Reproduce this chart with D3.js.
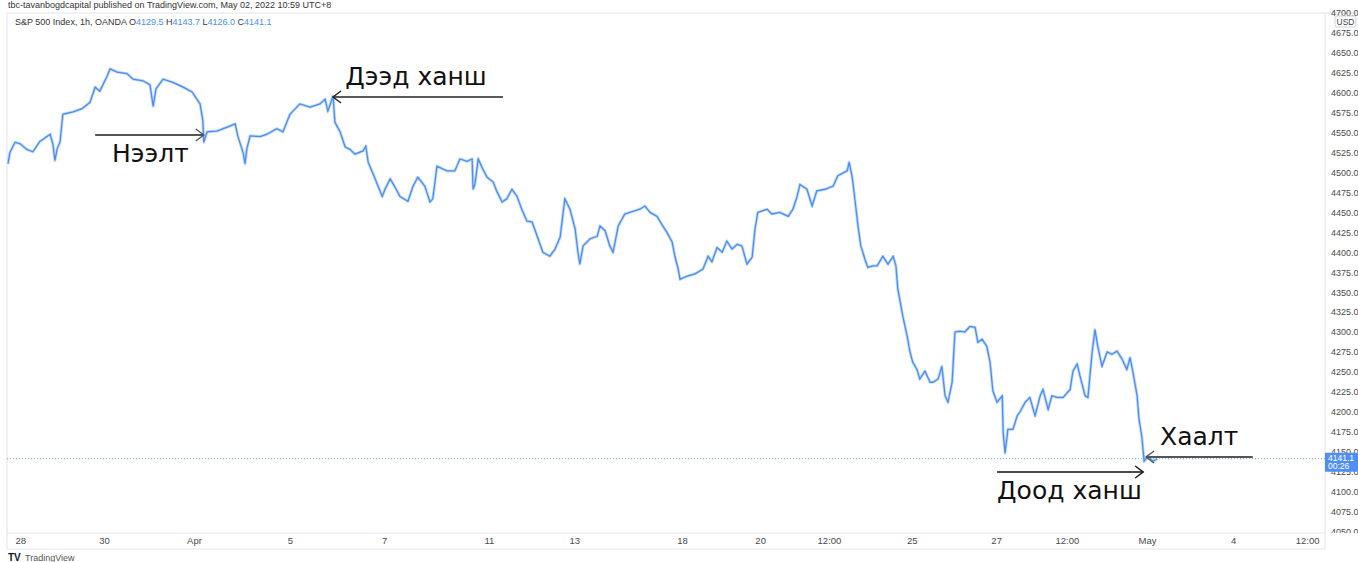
<!DOCTYPE html>
<html><head><meta charset="utf-8">
<script src="https://cdn.jsdelivr.net/npm/d3@7"></script>
<style>body{margin:0;background:#fff;overflow:hidden;} svg{display:block;}</style>
</head><body>
<svg id="c" width="1358" height="562"></svg>
<script>
// ---- data (trading-day offset, price) ----
const days = [-0.17,-0.13,-0.02,0.09,0.23,0.36,0.51,0.73,0.79,0.83,0.88,0.94,1.00,1.22,1.41,1.58,1.69,1.79,1.94,2.01,2.16,2.37,2.50,2.71,2.86,2.93,2.99,3.14,3.35,3.57,3.76,3.93,3.99,4.01,4.08,4.29,4.51,4.68,4.74,4.85,4.89,4.93,5.00,5.21,5.36,5.57,5.70,5.85,6.06,6.28,6.49,6.60,6.66,6.77,6.81,6.92,7.03,7.13,7.24,7.41,7.47,7.52,7.67,7.82,7.88,7.99,8.09,8.20,8.37,8.48,8.58,8.73,8.84,8.90,8.99,9.20,9.37,9.48,9.63,9.74,9.76,9.80,9.87,9.97,10.06,10.19,10.27,10.38,10.48,10.59,10.70,10.80,10.91,11.02,11.13,11.25,11.40,11.51,11.62,11.72,11.83,11.94,12.00,12.04,12.11,12.26,12.41,12.47,12.58,12.68,12.75,12.86,13.00,13.11,13.32,13.43,13.54,13.69,13.79,13.90,14.01,14.07,14.14,14.18,14.33,14.50,14.67,14.78,14.86,14.97,15.08,15.18,15.29,15.40,15.50,15.61,15.72,15.78,15.84,16.04,16.14,16.31,16.49,16.59,16.68,16.74,16.89,17.00,17.10,17.28,17.45,17.55,17.75,17.79,17.85,17.87,17.92,17.98,18.04,18.13,18.19,18.30,18.39,18.51,18.62,18.73,18.79,18.83,18.88,18.94,19.03,19.09,19.15,19.24,19.30,19.41,19.52,19.58,19.69,19.77,19.84,19.90,19.99,20.05,20.16,20.26,20.37,20.48,20.54,20.63,20.73,20.80,20.86,20.95,21.06,21.08,21.12,21.18,21.29,21.38,21.44,21.55,21.65,21.76,21.87,21.93,22.04,22.12,22.23,22.36,22.51,22.57,22.66,22.72,22.83,22.89,22.98,23.04,23.10,23.19,23.30,23.40,23.51,23.62,23.72,23.79,23.85,23.94,23.98,24.04,24.09,24.17,24.28,24.37];
const prices = [4511,4525,4538,4536,4529,4526,4539,4548,4535,4515,4530,4538,4573,4576,4580,4588,4607,4602,4620,4630,4626,4624,4617,4615,4610,4583,4605,4617,4613,4607,4601,4586,4565,4538,4551,4552,4557,4561,4545,4525,4511,4530,4546,4545,4548,4555,4551,4573,4586,4582,4586,4592,4577,4596,4563,4551,4532,4529,4523,4527,4533,4513,4492,4470,4479,4492,4482,4470,4464,4483,4494,4483,4463,4467,4508,4502,4502,4517,4514,4517,4479,4485,4517,4504,4494,4488,4476,4463,4467,4479,4470,4454,4439,4438,4420,4400,4395,4404,4419,4467,4454,4429,4400,4385,4408,4417,4420,4433,4427,4408,4400,4433,4448,4450,4454,4458,4450,4445,4435,4425,4413,4395,4379,4366,4370,4373,4379,4395,4388,4406,4400,4414,4404,4410,4408,4385,4394,4429,4450,4454,4448,4450,4445,4454,4470,4485,4479,4458,4477,4479,4483,4496,4502,4513,4496,4488,4463,4433,4408,4391,4381,4383,4383,4395,4385,4395,4383,4354,4338,4319,4295,4275,4262,4253,4241,4251,4237,4237,4241,4257,4220,4212,4237,4300,4301,4300,4307,4306,4287,4291,4282,4262,4226,4212,4220,4174,4148,4178,4178,4195,4200,4212,4218,4195,4220,4228,4203,4220,4218,4218,4228,4251,4260,4245,4220,4218,4275,4303,4282,4257,4275,4272,4276,4266,4253,4268,4250,4220,4191,4169,4138,4144,4138,4141];

const timeTickDays   = [0.09,1.88,3.80,5.85,7.86,10.10,11.92,14.22,15.89,17.36,19.13,20.93,22.44,24.15,25.99,27.57];
const timeTickLabels = ["28","30","Apr","5","7","11","13","18","20","12:00","25","27","12:00","May","4","12:00"];
const priceTicks = d3.range(4050, 4701, 25);

const symbolText = "S&P 500 Index, 1h, OANDA";
const ohlcKeys = ["O","H","L","C"];
const ohlcVals = [4129.5, 4143.7, 4126.0, 4141.1];
const lastPrice = 4141.1;
const countdown = "00:26";
const publisher = "tbc-tavanbogdcapital published on TradingView.com, May 02, 2022 10:59 UTC+8";

// annotations (anchored in data coordinates)
const annLabels     = ["Нээлт","Дээд ханш","Хаалт","Доод ханш"];
const annTextDay    = [2.05, 7.03, 24.43, 20.95];
const annTextPrice  = [4513, 4609.7, 4158.3, 4090.6];
const annFromDay    = [1.69, 10.40, 26.41, 20.95];
const annToDay      = [4.01, 6.77, 24.13, 24.07];
const annArrowPrice = [4547, 4594.7, 4143.3, 4124.5];
const annArrowColor = ["#555","#222","#555","#111"];
const annArrowWidth = [2, 1.4, 2, 1.4];

// ---- layout ----
const W = 1358;
const svg = d3.select("#c");
const L = 7, R = 1325, T = 13, B = 533, AX_B = 549;
const x = d3.scaleLinear().domain([0, 24]).range([16, 16 + 46.83 * 24]);
const y = d3.scaleLinear().domain([4048, 4700]).range([B, T]);
const font = "Arial, 'Liberation Sans', sans-serif";

// header
svg.append("text").attr("x", 8).attr("y", 8).attr("font-family", font)
  .attr("font-size", 9).attr("fill", "#333").text(publisher);

// frame
const gridC = "#e0e3eb";
svg.append("line").attr("x1", L).attr("x2", W).attr("y1", T).attr("y2", T).attr("stroke", gridC);
svg.append("line").attr("x1", L).attr("x2", L).attr("y1", T).attr("y2", AX_B).attr("stroke", gridC);
svg.append("line").attr("x1", L).attr("x2", R).attr("y1", B).attr("y2", B).attr("stroke", gridC);
svg.append("line").attr("x1", L).attr("x2", R).attr("y1", AX_B).attr("y2", AX_B).attr("stroke", gridC);
svg.append("line").attr("x1", R).attr("x2", R).attr("y1", T).attr("y2", AX_B).attr("stroke", gridC);

// clips
const defs = svg.append("defs");
defs.append("clipPath").attr("id", "plot")
  .append("rect").attr("x", L).attr("y", T).attr("width", R - L).attr("height", B - T);
defs.append("clipPath").attr("id", "paxis")
  .append("rect").attr("x", 0).attr("y", 0).attr("width", W - R).attr("height", B);

// symbol legend
const leg = svg.append("text").attr("x", 15).attr("y", 25).attr("font-family", font).attr("font-size", 9);
leg.append("tspan").attr("fill", "#333").text(symbolText + "  ");
ohlcKeys.forEach((k, i) => {
  leg.append("tspan").attr("fill", "#333").text(k);
  leg.append("tspan").attr("fill", "#4a90f0").text(ohlcVals[i].toFixed(1) + (i < 3 ? "  " : ""));
});

// last price dotted line
svg.append("line").attr("x1", L).attr("x2", R).attr("y1", y(lastPrice)).attr("y2", y(lastPrice))
  .attr("stroke", "#6fa5f5").attr("stroke-width", 1).attr("stroke-dasharray", "1,2");

// price series
const pts = days.map((d, i) => ({ t: d, p: prices[i] }));
const line = d3.line().x(d => x(d.t)).y(d => y(d.p));
const pg = svg.append("g").attr("clip-path", "url(#plot)");
pg.append("path").datum(pts).attr("d", line).attr("fill", "none")
  .attr("stroke", "#a8c8fa").attr("stroke-width", 3).attr("stroke-linejoin", "round").attr("opacity", 0.7);
pg.append("path").datum(pts).attr("d", line).attr("fill", "none")
  .attr("stroke", "#4a8ef2").attr("stroke-width", 1.3).attr("stroke-linejoin", "miter");

// price axis
const pax = svg.append("g").attr("transform", `translate(${R},0)`).attr("clip-path", "url(#paxis)")
  .call(d3.axisRight(y).tickValues(priceTicks).tickSize(0).tickFormat(d3.format(".1f")));
pax.select(".domain").remove();
pax.selectAll("text").attr("x", 6).attr("font-family", font).attr("font-size", 9).attr("fill", "#4a4a4a");

// USD box
svg.append("rect").attr("x", 1335).attr("y", 16).attr("width", 21).attr("height", 11)
  .attr("fill", "#fff").attr("stroke", "#d0d3da").attr("rx", 2);
svg.append("text").attr("x", 1345.5).attr("y", 24.5).attr("text-anchor", "middle")
  .attr("font-family", font).attr("font-size", 8.5).attr("fill", "#444").text("USD");

// last price label
const ly = y(lastPrice);
svg.append("rect").attr("x", R).attr("y", ly - 6).attr("width", W - R).attr("height", 19).attr("fill", "#4f8ff5");
svg.append("text").attr("x", R + 3).attr("y", ly + 2.5).attr("font-family", font).attr("font-size", 8.5)
  .attr("fill", "#fff").text(lastPrice.toFixed(1));
svg.append("text").attr("x", R + 3).attr("y", ly + 10.5).attr("font-family", font).attr("font-size", 8.5)
  .attr("fill", "#fff").text(countdown);

// time axis
const tax = svg.append("g").attr("transform", `translate(0,${B})`)
  .call(d3.axisBottom(x).tickValues(timeTickDays).tickSize(0).tickFormat((d, i) => timeTickLabels[i]));
tax.select(".domain").remove();
tax.selectAll("text").attr("y", 0).attr("dy", "11px").attr("font-family", font)
  .attr("font-size", 9.5).attr("fill", "#4a4a4a");

// annotations
const ag = svg.append("g");
annLabels.forEach((lab, i) => {
  const x1 = x(annFromDay[i]), x2 = x(annToDay[i]), yy = y(annArrowPrice[i]);
  const dir = x2 > x1 ? 1 : -1;
  ag.append("line").attr("x1", x1).attr("x2", x2).attr("y1", yy).attr("y2", yy)
    .attr("stroke", annArrowColor[i]).attr("stroke-width", annArrowWidth[i]);
  ag.append("path").attr("d", `M${x2 - dir * 8},${yy - 6}L${x2},${yy}L${x2 - dir * 8},${yy + 6}`)
    .attr("fill", "none").attr("stroke", annArrowColor[i]).attr("stroke-width", 1.4);
  ag.append("text").attr("x", x(annTextDay[i])).attr("y", y(annTextPrice[i]))
    .attr("font-family", "'DejaVu Sans', Verdana, sans-serif").attr("font-size", 25)
    .attr("fill", "#111").text(lab);
});

// TradingView logo
svg.append("text").attr("x", 8).attr("y", 561).attr("font-family", font).attr("font-weight", "bold")
  .attr("font-size", 10).attr("fill", "#131722").text("TV");
svg.append("text").attr("x", 25).attr("y", 561).attr("font-family", font)
  .attr("font-size", 9).attr("fill", "#555").text("TradingView");
</script>
</body></html>
